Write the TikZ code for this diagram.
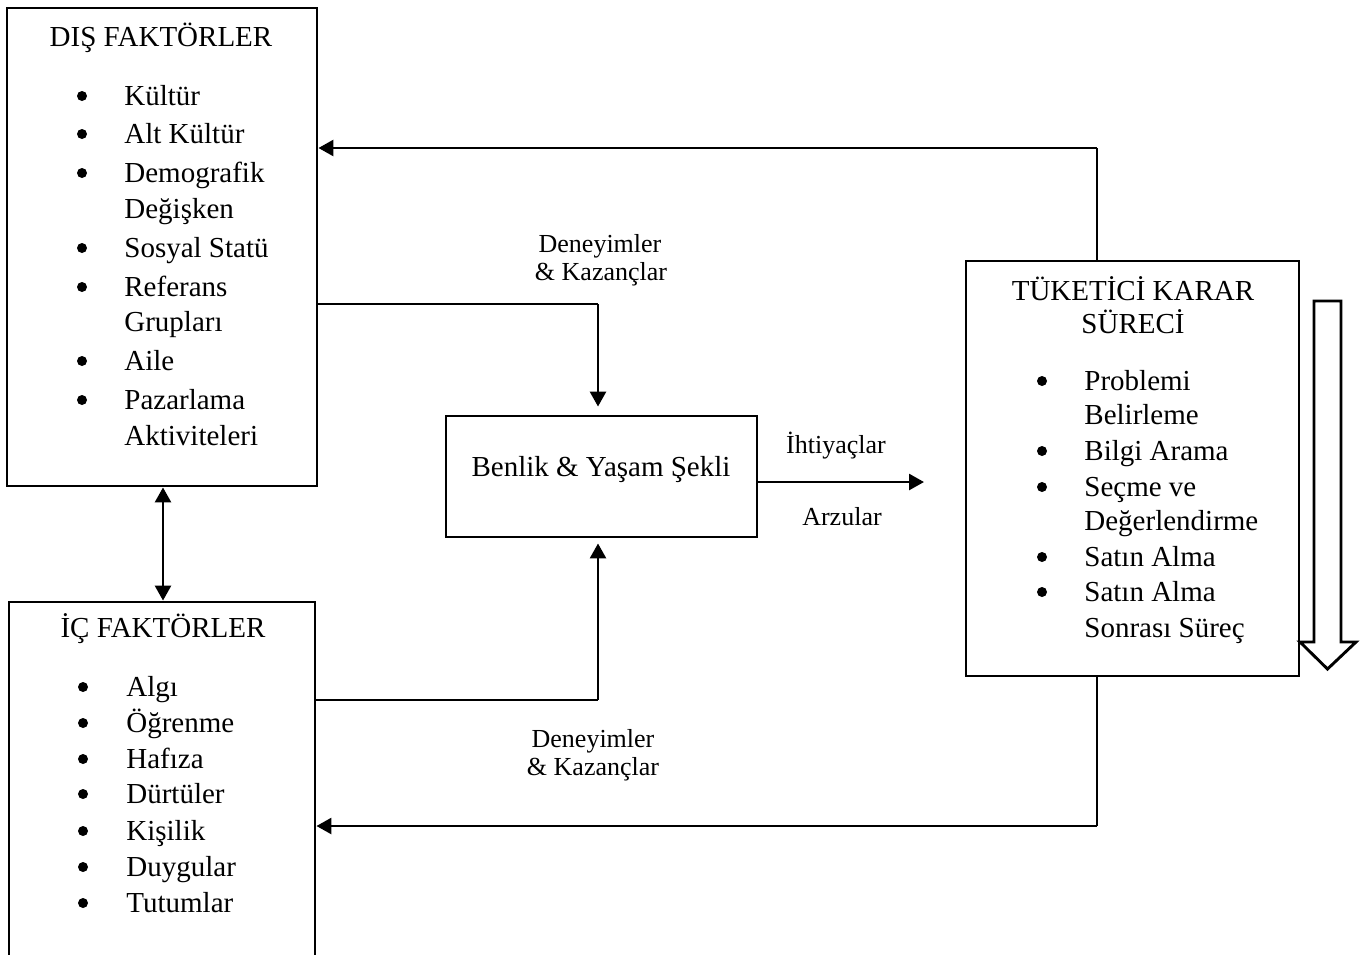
\documentclass[tikz,border=0pt]{standalone}
\usepackage{fontspec}
\setmainfont{Liberation Serif}
\usetikzlibrary{arrows.meta}
\begin{document}
\begin{tikzpicture}[x=0.5pt, y=-0.5pt,
  box/.style={draw, line width=1.45pt, inner sep=0pt},
  txt/.style={font=\fontsize{14.5}{17}\selectfont, inner sep=0pt, anchor=base},
  itm/.style={txt, anchor=base west},
  dot/.style={circle, fill, inner sep=0pt, minimum size=5pt},
  lbl/.style={font=\fontsize{13}{15}\selectfont, inner sep=0pt, anchor=base},
  heavy/.style={line width=1.35pt},
  light/.style={line width=0.85pt},
  arrowed/.style={-{Triangle[length=7.5pt,width=8pt]}},
  twoway/.style={{Triangle[length=7.5pt,width=8pt]}-{Triangle[length=7.5pt,width=8pt]}}
]
\useasboundingbox (0,0) rectangle (1363,954);
\clip (0,0) rectangle (1363,954);

% boxes
\node[box, minimum width=155pt, minimum height=239pt] (dis) at (162,247) {};
\node[box, minimum width=153pt, minimum height=182pt] (ic) at (162,784) {};
\node[box, minimum width=166.5pt, minimum height=207.5pt] (tk) at (1132.5,468.5) {};
\node[box, minimum width=155.5pt, minimum height=60.5pt] (bn) at (601.5,476.5) {};

% titles
\node[txt] (disT) at (161,46) {DIŞ FAKTÖRLER};
\node[txt] (icT) at (163,637) {İÇ FAKTÖRLER};
\node[txt] (tkT1) at (1133,300) {TÜKETİCİ KARAR};
\node[txt] (tkT2) at (1133,333) {SÜRECİ};
\node[txt] (bnT) at (601,476) {Benlik \& Yaşam Şekli};

% external factors
\foreach \n/\y/\b/\t in {1/105/1/Kültür, 2/143/1/Alt Kültür, 3/182/1/Demografik,
    4/218/0/Değişken, 5/257/1/Sosyal Statü, 6/296/1/Referans, 7/331/0/Grupları,
    8/370/1/Aile, 9/409/1/Pazarlama, 10/445/0/Aktiviteleri}{
  \ifnum\b=1 \node[dot] (db\n) at (82,\y-9) {};\fi
  \node[itm] (dt\n) at (124,\y) {\t};
}

% internal factors
\foreach \n/\y/\t in {1/696/Algı, 2/732/Öğrenme, 3/768/Hafıza, 4/803/Dürtüler,
    5/840/Kişilik, 6/876/Duygular, 7/912/Tutumlar}{
  \node[dot] (ib\n) at (83,\y-9) {};
  \node[itm] (it\n) at (126,\y) {\t};
}

% decision process
\foreach \n/\y/\b/\t in {1/390/1/Problemi, 2/424/0/Belirleme, 3/460/1/Bilgi Arama,
    4/496/1/Seçme ve, 5/530/0/Değerlendirme, 6/566/1/Satın Alma,
    7/601/1/Satın Alma, 8/637/0/Sonrası Süreç}{
  \ifnum\b=1 \node[dot] (kb\n) at (1042,\y-9) {};\fi
  \node[itm] (kt\n) at (1084,\y) {\t};
}

% process direction arrow
\draw[line width=1.45pt, line join=miter]
  (1314,301) -- (1341,301) -- (1341,642) -- (1356,642) -- (1327.5,669)
  -- (1300,642) -- (1314,642) -- cycle;

% labels
\node[lbl] (l1) at (600,252) {Deneyimler};
\node[lbl] (l2) at (601,280) {\& Kazançlar};
\node[lbl] (l3) at (593,747) {Deneyimler};
\node[lbl] (l4) at (593,775) {\& Kazançlar};
\node[lbl] (l5) at (836,453) {İhtiyaçlar};
\node[lbl] (l6) at (842,525) {Arzular};

% connectors
\coordinate (j1) at (598,304);
\draw[light] (dis.east |- j1) -- (j1);
\draw[heavy, arrowed, shorten >=4pt] (j1) -- (j1 |- bn.north);

\coordinate (j2) at (598,700);
\draw[light] (ic.east |- j2) -- (j2);
\draw[heavy, arrowed, shorten >=2.5pt] (j2) -- (j2 |- bn.south);

\coordinate (j3) at (924,482);
\draw[heavy, arrowed] (bn.east |- j3) -- (j3);

\coordinate (j4) at (1097,148);
\draw[light] (tk.north -| j4) -- (j4);
\draw[heavy, arrowed] (j4) -- (dis.east |- j4);

\coordinate (j5) at (1097,826);
\draw[light] (tk.south -| j5) -- (j5);
\draw[heavy, arrowed] (j5) -- (ic.east |- j5);

\coordinate (j6) at (163,0);
\draw[heavy, twoway] (dis.south -| j6) -- (ic.north -| j6);
\end{tikzpicture}
\end{document}
